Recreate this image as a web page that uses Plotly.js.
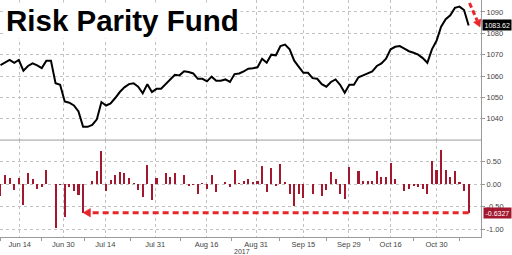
<!DOCTYPE html>
<html><head><meta charset="utf-8">
<script src="https://cdn.plot.ly/plotly-3.0.1.min.js"></script>
<style>html,body{margin:0;padding:0;background:#fff;overflow:hidden}</style>
</head><body><div id="chart" style="width:512px;height:255px"></div>
<script>
// Risk Parity Fund index level (daily)
const fundLevel = [
 1065.1,1066.5,1067.5,1066.2,1067.5,1062.5,1064.7,1065.9,1065.0,1063.7,
 1067.2,1067.2,1056.6,1055.9,1048.1,1047.5,1046.2,1043.4,1036.2,1036.2,
 1037.1,1039.7,1047.8,1046.2,1047.2,1049.7,1052.5,1054.7,1056.2,1056.6,
 1055.0,1051.9,1056.2,1052.5,1054.0,1054.0,1056.2,1058.1,1060.6,1060.3,
 1062.2,1061.9,1061.2,1058.7,1058.7,1057.5,1059.7,1057.8,1057.8,1058.4,
 1057.2,1060.9,1061.2,1062.2,1063.4,1063.6,1064.1,1068.1,1066.2,1070.0,
 1069.7,1074.0,1074.7,1072.5,1067.2,1064.3,1061.5,1061.5,1059.0,1058.7,
 1056.2,1055.0,1057.2,1058.4,1055.9,1052.2,1055.9,1055.9,1059.4,1060.3,
 1061.2,1062.2,1064.7,1065.9,1068.1,1072.5,1073.7,1074.0,1072.8,1071.6,
 1070.9,1070.0,1068.4,1066.2,1072.5,1076.5,1083.1,1086.6,1088.4,1091.9,
 1092.5,1090.9,1083.62
];
// Daily % change
const dailyChange = [
 -0.26,0.19,0.13,-0.13,0.13,-0.47,0.24,0.12,-0.12,-0.06,
 0.31,0.01,-0.97,-0.03,-0.72,-0.06,-0.15,-0.24,-0.65,0.00,
 0.07,0.28,0.74,-0.15,0.09,0.21,0.26,0.24,0.13,0.03,
 -0.13,-0.28,0.41,-0.35,0.13,0.01,0.25,0.16,0.24,0.01,
 0.19,-0.04,-0.03,-0.22,0.02,-0.10,0.21,-0.18,0.01,0.04,
 -0.07,0.31,0.03,0.07,0.11,0.04,0.07,0.40,-0.18,0.35,
 -0.05,0.44,0.04,-0.21,-0.49,-0.22,-0.31,0.01,-0.21,0.00,
 -0.26,-0.13,0.26,0.10,-0.22,-0.34,0.37,0.00,0.29,0.07,
 0.07,0.07,0.29,0.15,0.16,0.47,0.12,0.00,-0.15,-0.10,
 -0.04,-0.06,-0.12,-0.22,0.50,0.32,0.76,0.32,0.16,0.28,
 0.04,-0.16,-0.6327
];
const tickPos = [4.2, 13.7, 22.85, 33.7, 44.9, 55.7, 66.0, 75.9, 85.0, 95.0];
const tickLabels = ['Jun 14','Jun 30','Jul 14','Jul 31','Aug 16','Aug 31','Sep 15','Sep 29','Oct 16','Oct 30'];
const levelTicks = [1040,1050,1060,1070,1080,1090];
const changeTicks = [0.5,0,-0.5,-1];
const changeTickLabels = ['0.50','0.00','-0.50','-1.00'];
const yearLabel = '2017';
const titleText = 'Risk Parity Fund';

const idx = fundLevel.map((_, i) => i);
const lastI = idx[idx.length-1];
const lastLevel = fundLevel[lastI];
const lastChange = dailyChange[lastI];
const minorTicks = [0].concat(tickPos.slice(1).map((t,i)=> (t+tickPos[i])/2), [100]);

const FONT = 'Liberation Sans, Arial, sans-serif';
const RED = '#e8262a';
const BAR = '#a3182f';
const GRID = '#c2c2c2';
const AX = '#9a9a9a';
const H = 237; // plot height in px
const W = 481; // plot width in px
const px = (x) => x / W;
const py = (y) => (H - y) / H;
const split = 0.409;

const traces = [
  {x: idx, y: fundLevel, type:'scatter', mode:'lines', line:{color:'#000', width:2}, xaxis:'x', yaxis:'y', hoverinfo:'skip'},
  {x: idx, y: dailyChange, type:'bar', marker:{color:BAR}, width:0.45, xaxis:'x', yaxis:'y2', hoverinfo:'skip'}
];

const tipI = 18, baseI = 19.6;
const layout = {
  width:512, height:255,
  margin:{l:0, r:31, t:0, b:18},
  paper_bgcolor:'#fff', plot_bgcolor:'#fff',
  showlegend:false,
  font:{family:FONT, size:7.5, color:'#444'},
  bargap:0,
  xaxis:{range:[-0.1,104.69], anchor:'y2', tickmode:'array', tickvals:tickPos, ticktext:tickLabels,
    showgrid:true, gridcolor:GRID, griddash:'dot', gridwidth:1, ticks:'', zeroline:false,
    showline:true, linecolor:AX, linewidth:1, tickfont:{size:7.5, color:'#444'},
    minor:{tickmode:'array', tickvals:minorTicks, ticks:'outside', ticklen:3, tickcolor:AX, showgrid:false}},
  yaxis:{domain:[split,1], range:[1030,1095.6], side:'right', anchor:'x', tickmode:'array', tickvals:levelTicks,
    showgrid:true, gridcolor:GRID, griddash:'dot', ticks:'outside', ticklen:3, tickcolor:AX,
    showline:true, linecolor:AX, zeroline:false, tickfont:{size:7.5, color:'#444'}},
  yaxis2:{domain:[0,split], range:[-1.17,0.971], side:'right', anchor:'x', tickmode:'array', tickvals:changeTicks,
    ticktext:changeTickLabels, showgrid:true, gridcolor:GRID, griddash:'dot', ticks:'outside', ticklen:3,
    tickcolor:AX, showline:true, linecolor:AX, zeroline:false, tickfont:{size:7.5, color:'#444'}},
  shapes:[
    {type:'line', xref:'paper', yref:'paper', x0:0, x1:1, y0:split, y1:split, line:{color:AX, width:1}},
    {type:'line', xref:'x', yref:'y2', x0:lastI, x1:baseI, y0:lastChange, y1:lastChange, line:{color:RED, width:3, dash:'6px,4px'}},
    {type:'path', xref:'x', yref:'y2', path:`M ${tipI},${lastChange} L ${baseI},${lastChange+0.095} L ${baseI},${lastChange-0.095} Z`, fillcolor:RED, line:{color:RED, width:0.5}},
    {type:'line', xref:'paper', yref:'paper', x0:px(469.5), y0:py(3), x1:px(477.2), y1:py(20.6), line:{color:RED, width:3, dash:'5px,3px'}},
    {type:'path', xref:'paper', yref:'paper', path:`M ${px(480)},${py(27)} L ${px(480.9)},${py(19)} L ${px(473.5)},${py(22.2)} Z`, fillcolor:RED, line:{color:RED, width:0.5}}
  ],
  annotations:[
    {xref:'paper', yref:'paper', x:px(4), y:py(2), xanchor:'left', yanchor:'top', showarrow:false,
     text:'<b>'+titleText+'</b>', font:{family:FONT, size:29.5, color:'#000'}, bgcolor:'#fff', borderpad:1},
    {xref:'paper', yref:'paper', x:px(511.5), y:py(25.3), xanchor:'right', yanchor:'middle', showarrow:false,
     text:lastLevel.toFixed(2), font:{family:FONT, size:7, color:'#fff'}, bgcolor:'#000', borderpad:1.5},
    {xref:'paper', yref:'paper', x:px(511.5), y:py(212.7), xanchor:'right', yanchor:'middle', showarrow:false,
     text:lastChange.toFixed(4), font:{family:FONT, size:7, color:'#fff'}, bgcolor:BAR, borderpad:1.5},
    {xref:'paper', yref:'paper', x:px(241.7), y:py(251), xanchor:'center', yanchor:'middle', showarrow:false,
     text:yearLabel, font:{family:FONT, size:7, color:'#444'}}
  ]
};
Plotly.newPlot('chart', traces, layout, {staticPlot:true, displayModeBar:false});
</script></body></html>
